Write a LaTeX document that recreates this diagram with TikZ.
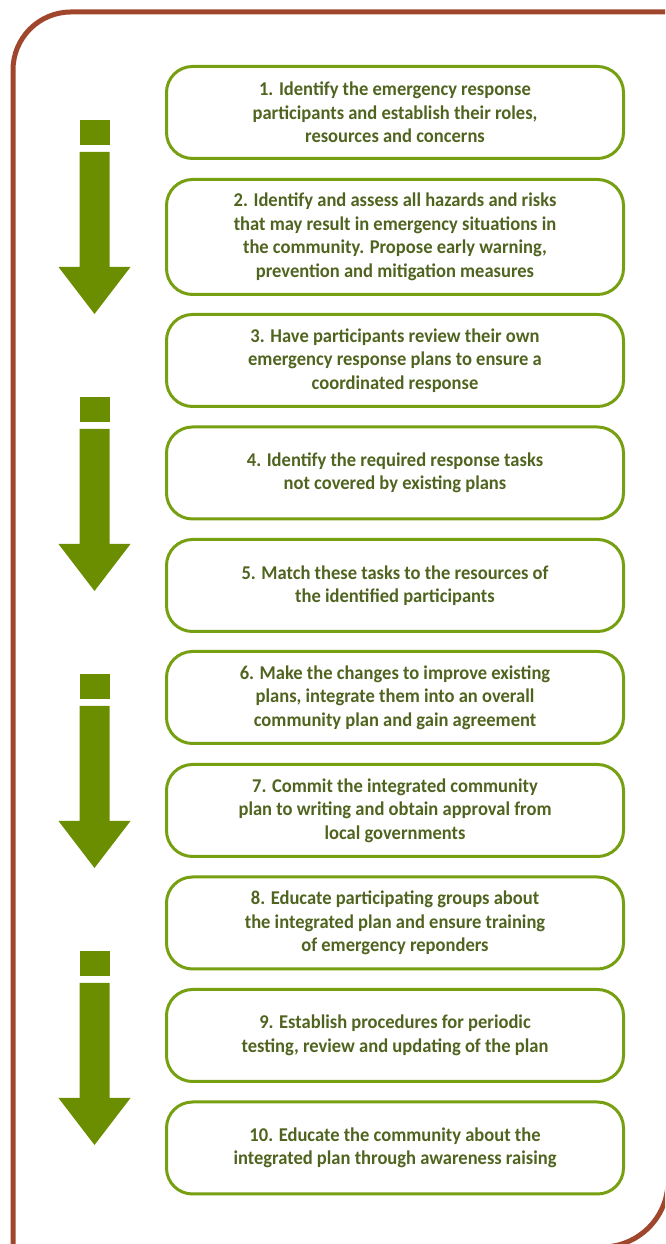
\documentclass[tikz,border=0pt]{standalone}
\usepackage{fontspec}
\setmainfont[FakeStretch=0.95]{Carlito}
\usepackage{tikz}
\definecolor{framebrown}{RGB}{160,70,45}
\definecolor{boxgreen}{RGB}{118,160,18}
\definecolor{arrowgreen}{RGB}{107,142,0}
\definecolor{textgreen}{RGB}{80,100,32}

\begin{document}
\begin{tikzpicture}[x=1pt,y=1pt]
\begin{scope}
	\tikzstyle{every node}=[align=center]
	\tikzstyle{stepbox}=[draw=boxgreen, line width=3pt, rounded corners=26pt, minimum width=457pt, minimum height=92pt, text=textgreen, font=\bfseries\fontsize{19.5}{23.5}\selectfont, inner sep=0pt]
	\useasboundingbox (0,0) rectangle (665,1244);
	\clip (0,0) rectangle (665,1244);

	% frame
	\draw [line width=5pt][framebrown] (13,-20) -- (13,1174) arc[start angle=180, end angle=90, radius=58] -- (690,1232);
	\draw [line width=5pt][framebrown] (668,1300) -- (668,63) arc[start angle=0, end angle=-90, radius=66] -- (-20,-3);

	\node[stepbox] (s1) at (395,1131.5) {1. Identify the emergency response\\participants and establish their roles,\\resources and concerns};
	\node[stepbox, minimum height=115pt] (s2) at (395,1007) {2. Identify and assess all hazards and risks\\that may result in emergency situations in\\the community. Propose early warning,\\prevention and mitigation measures};
	\node[stepbox] (s3) at (395,883.5) {3. Have participants review their own\\emergency response plans to ensure a\\coordinated response};
	\node[stepbox] (s4) at (395,771) {4. Identify the required response tasks\\not covered by existing plans};
	\node[stepbox] (s5) at (395,658.5) {5. Match these tasks to the resources of\\the identified participants};
	\node[stepbox] (s6) at (395,546.5) {6. Make the changes to improve existing\\plans, integrate them into an overall\\community plan and gain agreement};
	\node[stepbox] (s7) at (395,433.5) {7. Commit the integrated community\\plan to writing and obtain approval from\\local governments};
	\node[stepbox] (s8) at (395,321) {8. Educate participating groups about\\the integrated plan and ensure training\\of emergency reponders};
	\node[stepbox] (s9) at (395,208.5) {9. Establish procedures for periodic\\testing, review and updating of the plan};
	\node[stepbox] (s10) at (395,96) {10. Educate the community about the\\integrated plan through awareness raising};

	% arrows
	\fill[arrowgreen] (79.5,1099) rectangle (109.5,1124);
	\fill[arrowgreen] (79.5,1092) -- (109.5,1092) -- (109.5,977) -- (130.5,977) -- (94.5,930) -- (58.5,977) -- (79.5,977) -- cycle;
	\fill[arrowgreen] (79.5,822) rectangle (109.5,847);
	\fill[arrowgreen] (79.5,815) -- (109.5,815) -- (109.5,700) -- (130.5,700) -- (94.5,653) -- (58.5,700) -- (79.5,700) -- cycle;
	\fill[arrowgreen] (79.5,545) rectangle (109.5,570);
	\fill[arrowgreen] (79.5,538) -- (109.5,538) -- (109.5,423) -- (130.5,423) -- (94.5,376) -- (58.5,423) -- (79.5,423) -- cycle;
	\fill[arrowgreen] (79.5,268) rectangle (109.5,293);
	\fill[arrowgreen] (79.5,261) -- (109.5,261) -- (109.5,146) -- (130.5,146) -- (94.5,99) -- (58.5,146) -- (79.5,146) -- cycle;
\end{scope}
\end{tikzpicture}
\end{document}
